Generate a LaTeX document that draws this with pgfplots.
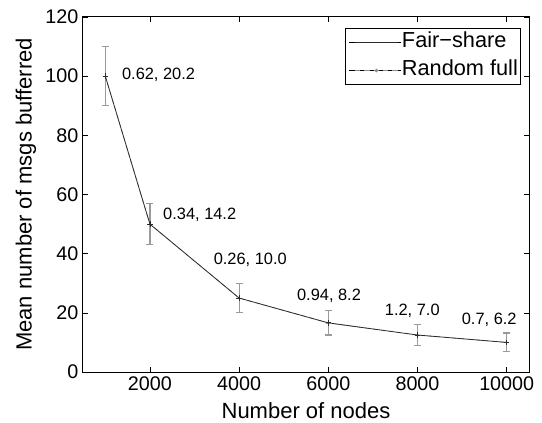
\documentclass[border=0pt]{standalone}
\usepackage{pgfplots}
\pgfplotsset{compat=1.18}
\usepackage{fontspec}
\setmainfont{Liberation Sans}
\definecolor{ebgray}{HTML}{9A9A9A}
\definecolor{lgray}{HTML}{8C8C8C}
\definecolor{dline}{HTML}{2A2A2A}
\pgfplotsset{
  fairleg/.style={legend image code/.code={\path (0pt,0pt) -- (39.4pt,0pt); \draw[dline, line width=0.6pt] (4.6pt,0pt) -- (36.6pt,0pt);}},
  randleg/.style={legend image code/.code={\path (0pt,0pt) -- (39.4pt,0pt); \draw[lgray, line width=0.5pt, dash pattern=on 4pt off 3pt] (4.6pt,0pt) -- (36.6pt,0pt); \fill[lgray] (20.6pt,0pt) circle (0.9pt);}},
}
\begin{document}
\begin{tikzpicture}
\path[use as bounding box] (-62.25pt,-37.5pt) rectangle (344.25pt,279pt);
\begin{axis}[
  at={(0pt,0pt)}, anchor=south west,
  scale only axis, width=334.5pt, height=266.25pt,
  xmin=500, xmax=10500, ymin=0, ymax=120,
  xtick={2000,4000,6000,8000,10000}, ytick={0,20,40,60,80,100,120},
  tick align=inside, major tick length=4pt,
  tick style={black, line width=0.5pt},
  axis line style={line width=0.75pt},
  scaled x ticks=false,
  xticklabel style={font=\fontsize{14.8}{16}\selectfont},
  yticklabel style={font=\fontsize{14.8}{16}\selectfont},
  xticklabel={\pgfmathprintnumber[assume math mode=true,set thousands separator={}]{\tick}},
  yticklabel={\pgfmathprintnumber[assume math mode=true]{\tick}},
  xlabel={Number of nodes},
  ylabel={Mean number of msgs bufferred},
  label style={font=\fontsize{16.5}{19}\selectfont},
  xlabel style={at={(axis description cs:0.5,0)}, anchor=base, yshift=-35pt},
  legend style={at={(0.982,0.97)}, anchor=north east, draw=black, line width=0.75pt,
    font=\fontsize{16.3}{19}\selectfont, inner xsep=1.9pt, inner ysep=0pt,
    nodes={inner xsep=0pt, inner ysep=2.6pt, text height=12pt, text depth=4pt},
    column sep=0pt, row sep=0pt},
  legend cell align=left,
]
\addlegendimage{fairleg}
\addlegendentry{Fair−share}
\addlegendimage{randleg}
\addlegendentry{Random full}
\addplot[forget plot, lgray, dashed, line width=0.5pt, mark=+, mark size=2pt, mark options={solid, lgray},
  error bars/.cd, y dir=both, y explicit,
  error bar style={ebgray, line width=0.9pt, solid},
  error mark options={rotate=90, mark size=2.6pt, ebgray, line width=0.9pt}]
  table[x=x, y=y, y error=e] {
x y e
1000 100 10
2000 50 7
4000 25 5
6000 16.6 4.1
8000 12.5 3.5
10000 10 3.2
};
\addplot[forget plot, dline, line width=0.6pt, mark=+, mark size=2pt, mark options={dline}]
  table[x=x, y=y] {
x y
1000 100
2000 50
4000 25
6000 16.6
8000 12.5
10000 10
};
\begin{scope}[every node/.style={font=\fontsize{12.3}{14}\selectfont, inner sep=0pt}]
\node at (axis cs:2194,100.3) {0.62, 20.2};
\node at (axis cs:3117,53.0) {0.34, 14.2};
\node at (axis cs:4251,37.8) {0.26, 10.0};
\node at (axis cs:6016,25.7) {0.94, 8.2};
\node at (axis cs:7883,20.6) {1.2, 7.0};
\node at (axis cs:9608,17.6) {0.7, 6.2};
\end{scope}
\end{axis}
\end{tikzpicture}
\end{document}
